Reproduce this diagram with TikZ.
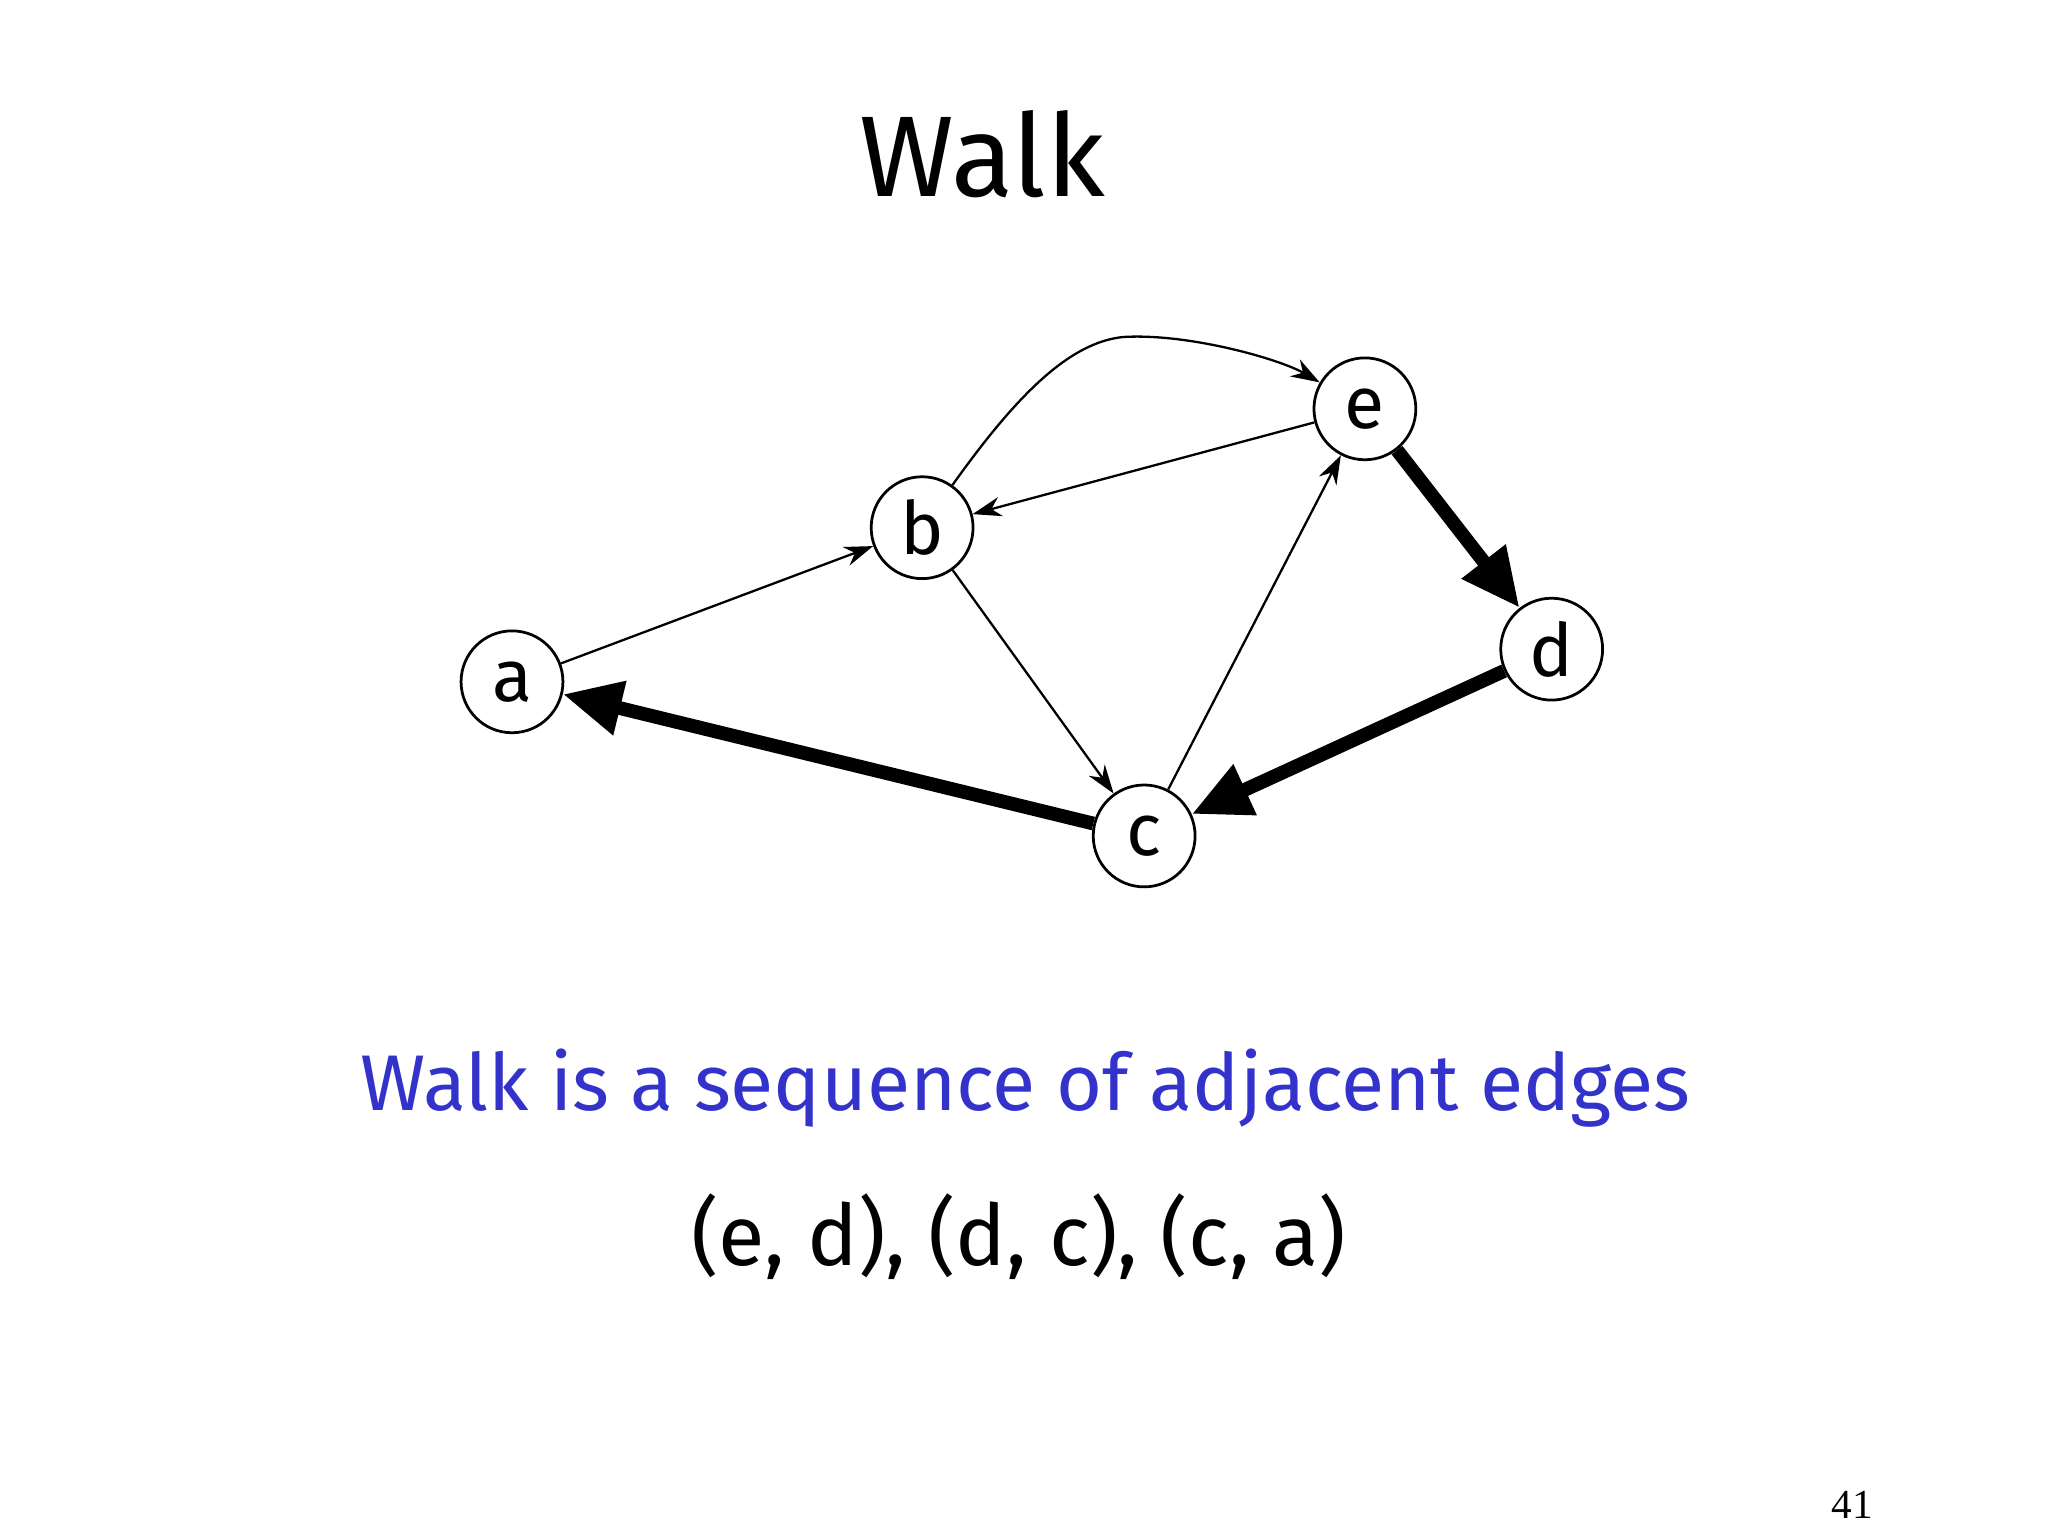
\documentclass[tikz,border=0pt]{standalone}
\usepackage{fontspec}
\setmainfont{Fira Sans}
\newfontfamily\numfont{Liberation Serif}
\usetikzlibrary{arrows.meta}
\definecolor{txtblue}{RGB}{51,51,204}
\begin{document}
\begin{tikzpicture}[x=0.1mm,y=-0.1mm,
  vtx/.style={circle,draw,line width=0.6pt,minimum size=7.8mm,inner sep=0pt,font=\fontsize{16}{18}\selectfont},
  thin/.style={line width=0.5pt,-{Stealth[length=2.2mm,width=1.5mm]}},
  thick/.style={line width=3pt,-{Triangle[length=4.5mm,width=4mm]}}]
\useasboundingbox (0,0) rectangle (1568,1176);
\node[font=\fontsize{25}{30}\selectfont] (t) at (752,118) {Walk};
\node[vtx] (a) at (392,522) {a};
\node[vtx] (b) at (706,404) {b};
\node[vtx] (e) at (1045,313) {e};
\node[vtx] (d) at (1188,497) {d};
\node[vtx] (c) at (876,640) {c};
\draw[thin] (a) -- (b);
\draw[thin] (b) -- (c);
\draw[thin] (c) -- (e);
\draw[thin] (e) -- (b);
\draw[thin] (b) .. controls (780,300) and (820,262) .. (860,258) .. controls (910,255) and (980,275) .. (e);
\draw[thick] (e) -- (d);
\draw[thick] (d) -- (c);
\draw[thick] (c) -- (a);
\node[text=txtblue,font=\fontsize{17.2}{22}\selectfont] (s) at (785,833) {Walk is a sequence of adjacent edges};
\node[font=\fontsize{18.5}{22}\selectfont] (w) at (780,947) {(e, d), (d, c), (c, a)};
\node[font=\numfont\fontsize{9}{11}\selectfont] (n) at (1418,1152) {41};
\end{tikzpicture}
\end{document}
